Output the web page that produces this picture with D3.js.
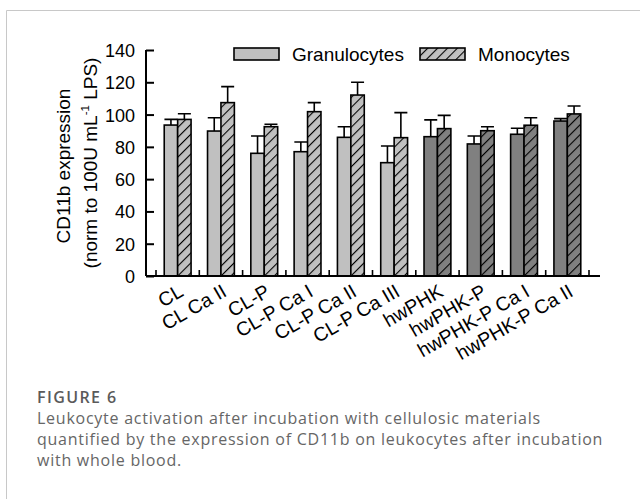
<!DOCTYPE html>
<html lang="en">
<head>
  <meta charset="UTF-8">
  <title>CD11b expression</title>
  <script src="https://d3js.org/d3.v7.min.js"></script>
  <style>
    body {
      margin: 0;
      background: #fff;
    }
    svg {
      display: block;
    }
  </style>
</head>
<body>
  <svg width="640" height="499"></svg>

  <script>
    const categories = ["CL", "CL Ca II", "CL-P", "CL-P Ca I", "CL-P Ca II", "CL-P Ca III",
      "hwPHK", "hwPHK-P", "hwPHK-P Ca I", "hwPHK-P Ca II"];
    const series = ["Granulocytes", "Monocytes"];
    const granulocytes = [93.5, 89.8, 76, 77, 85.9, 70.2, 86.3, 81.8, 87.8, 96];
    const granulocytesErr = [3.5, 8.2, 10.7, 6, 6.6, 10.3, 10.4, 4.9, 3.7, 1.5];
    const monocytes = [97, 107.4, 92.5, 101.8, 112.1, 85.7, 91.3, 90, 93.4, 100.4];
    const monocytesErr = [3.5, 9.9, 1.5, 5.6, 7.9, 15.5, 8.2, 2.5, 4.6, 4.9];
    const yTicks = [0, 20, 40, 60, 80, 100, 120, 140];

    const svg = d3.select("svg");
    const font = "'Liberation Sans', Arial, sans-serif";

    // figure frame
    svg.append("path")
      .attr("d", "M6.5,499 V10.5 H640")
      .attr("fill", "none")
      .attr("stroke", "#c8c8c8")
      .attr("stroke-width", 1);

    const defs = svg.append("defs");
    ["light", "dark"].forEach(k => {
      const p = defs.append("pattern")
        .attr("id", "hatch-" + k)
        .attr("patternUnits", "userSpaceOnUse")
        .attr("width", 7)
        .attr("height", 7)
        .attr("patternTransform", "rotate(45)");
      p.append("rect").attr("width", 7).attr("height", 7)
        .attr("fill", k === "light" ? "#c0c0c0" : "#808080");
      p.append("line").attr("x1", 0).attr("y1", 0).attr("x2", 0).attr("y2", 7)
        .attr("stroke", "#000").attr("stroke-width", 2.2);
    });

    const plotLeft = 146, plotRight = 600, plotTop = 50, plotBottom = 276;

    const x = d3.scaleBand()
      .domain(categories)
      .range([156, 589]);

    const x1 = d3.scaleBand()
      .domain(series)
      .range([x.bandwidth() * 0.19, x.bandwidth() * 0.81]);

    const y = d3.scaleLinear()
      .domain([0, 140])
      .range([plotBottom, plotTop]);

    const isDark = c => c.startsWith("hw");
    const rows = categories.map((c, i) => ({
      cat: c,
      bars: [
        { s: "Granulocytes", v: granulocytes[i], e: granulocytesErr[i] },
        { s: "Monocytes", v: monocytes[i], e: monocytesErr[i] }
      ]
    }));

    const groups = svg.append("g").selectAll("g")
      .data(rows)
      .join("g")
      .attr("transform", d => `translate(${x(d.cat)},0)`);

    // error bars (upper only)
    groups.selectAll("path.err")
      .data(d => d.bars.map(b => ({ ...b, cat: d.cat })))
      .join("path")
      .attr("class", "err")
      .attr("d", d => {
        const cx = x1(d.s) + x1.bandwidth() / 2;
        const yt = y(d.v + d.e);
        return `M${cx},${y(d.v)} V${yt} M${cx - 6.5},${yt} H${cx + 6.5}`;
      })
      .attr("stroke", "#000")
      .attr("stroke-width", 1.6)
      .attr("fill", "none");

    groups.selectAll("rect")
      .data(d => d.bars.map(b => ({ ...b, cat: d.cat })))
      .join("rect")
      .attr("x", d => x1(d.s))
      .attr("width", x1.bandwidth())
      .attr("y", d => y(d.v))
      .attr("height", d => y(0) - y(d.v))
      .attr("fill", d => {
        const k = isDark(d.cat) ? "dark" : "light";
        return d.s === "Monocytes" ? `url(#hatch-${k})` : (k === "dark" ? "#808080" : "#c0c0c0");
      })
      .attr("stroke", "#000")
      .attr("stroke-width", 1.6);

    // y axis
    const yAxis = svg.append("g")
      .attr("transform", `translate(${plotLeft},0)`)
      .call(d3.axisLeft(y).tickValues(yTicks).tickSize(-8).tickPadding(11));
    yAxis.select(".domain").remove();
    yAxis.append("line")
      .attr("x1", 0).attr("x2", 0).attr("y1", plotTop).attr("y2", plotBottom)
      .attr("stroke", "#000").attr("stroke-width", 2);
    yAxis.selectAll(".tick line").attr("stroke-width", 2);
    yAxis.selectAll("text")
      .attr("font-family", font)
      .attr("font-size", 18)
      .attr("fill", "#000")
      .attr("dy", "0.36em");

    // x axis
    const xAxis = svg.append("g");
    xAxis.append("line")
      .attr("x1", plotLeft).attr("x2", plotRight).attr("y1", plotBottom).attr("y2", plotBottom)
      .attr("stroke", "#000").attr("stroke-width", 2);
    const bounds = categories.map(c => x(c)).concat([x.range()[1]]);
    xAxis.selectAll("line.tick")
      .data(bounds)
      .join("line")
      .attr("class", "tick")
      .attr("x1", d => d).attr("x2", d => d)
      .attr("y1", plotBottom).attr("y2", plotBottom - 6)
      .attr("stroke", "#000").attr("stroke-width", 1.6);
    xAxis.selectAll("text")
      .data(categories)
      .join("text")
      .attr("transform", d => `translate(${x(d) + x.bandwidth() / 2},${plotBottom + 7}) rotate(-30)`)
      .attr("text-anchor", "end")
      .attr("dy", "0.72em")
      .attr("font-family", font)
      .attr("font-size", 19.5)
      .text(d => d);

    // y title
    const cy = (plotTop + plotBottom) / 2;
    svg.append("text")
      .attr("transform", `translate(70,${cy + 3}) rotate(-90)`)
      .attr("text-anchor", "middle")
      .attr("font-family", font)
      .attr("font-size", 19)
      .text("CD11b expression");
    const t2 = svg.append("text")
      .attr("transform", `translate(97,${cy}) rotate(-90)`)
      .attr("text-anchor", "middle")
      .attr("font-family", font)
      .attr("font-size", 19);
    t2.append("tspan").text("(norm to 100U mL");
    t2.append("tspan").attr("font-size", 11.5).attr("dy", -8).text("-1");
    t2.append("tspan").attr("dy", 8).text(" LPS)");

    // legend
    const legendPos = [{ x: 234, tx: 292 }, { x: 420, tx: 478 }];
    series.forEach((s, i) => {
      svg.append("rect")
        .attr("x", legendPos[i].x).attr("y", 48)
        .attr("width", 45).attr("height", 12)
        .attr("fill", i === 0 ? "#c0c0c0" : "url(#hatch-light)")
        .attr("stroke", "#000").attr("stroke-width", 1.6);
      svg.append("text")
        .attr("x", legendPos[i].tx).attr("y", 61)
        .attr("font-family", font)
        .attr("font-size", 19)
        .text(s);
    });

    // caption
    svg.append("text")
      .attr("x", 37).attr("y", 403)
      .attr("font-family", "'Open Sans', sans-serif")
      .attr("font-weight", 600)
      .attr("font-size", 16)
      .attr("letter-spacing", 1.4)
      .attr("fill", "#5a5a5a")
      .text("FIGURE 6");
    const captionLines = [
      "Leukocyte activation after incubation with cellulosic materials",
      "quantified by the expression of CD11b on leukocytes after incubation",
      "with whole blood."
    ];
    svg.append("g").selectAll("text")
      .data(captionLines)
      .join("text")
      .attr("x", 37)
      .attr("y", (d, i) => 424 + i * 21)
      .attr("font-family", "'Open Sans', sans-serif")
      .attr("font-size", 16)
      .attr("letter-spacing", 0.75)
      .attr("fill", "#666")
      .text(d => d);
  </script>
</body>
</html>
